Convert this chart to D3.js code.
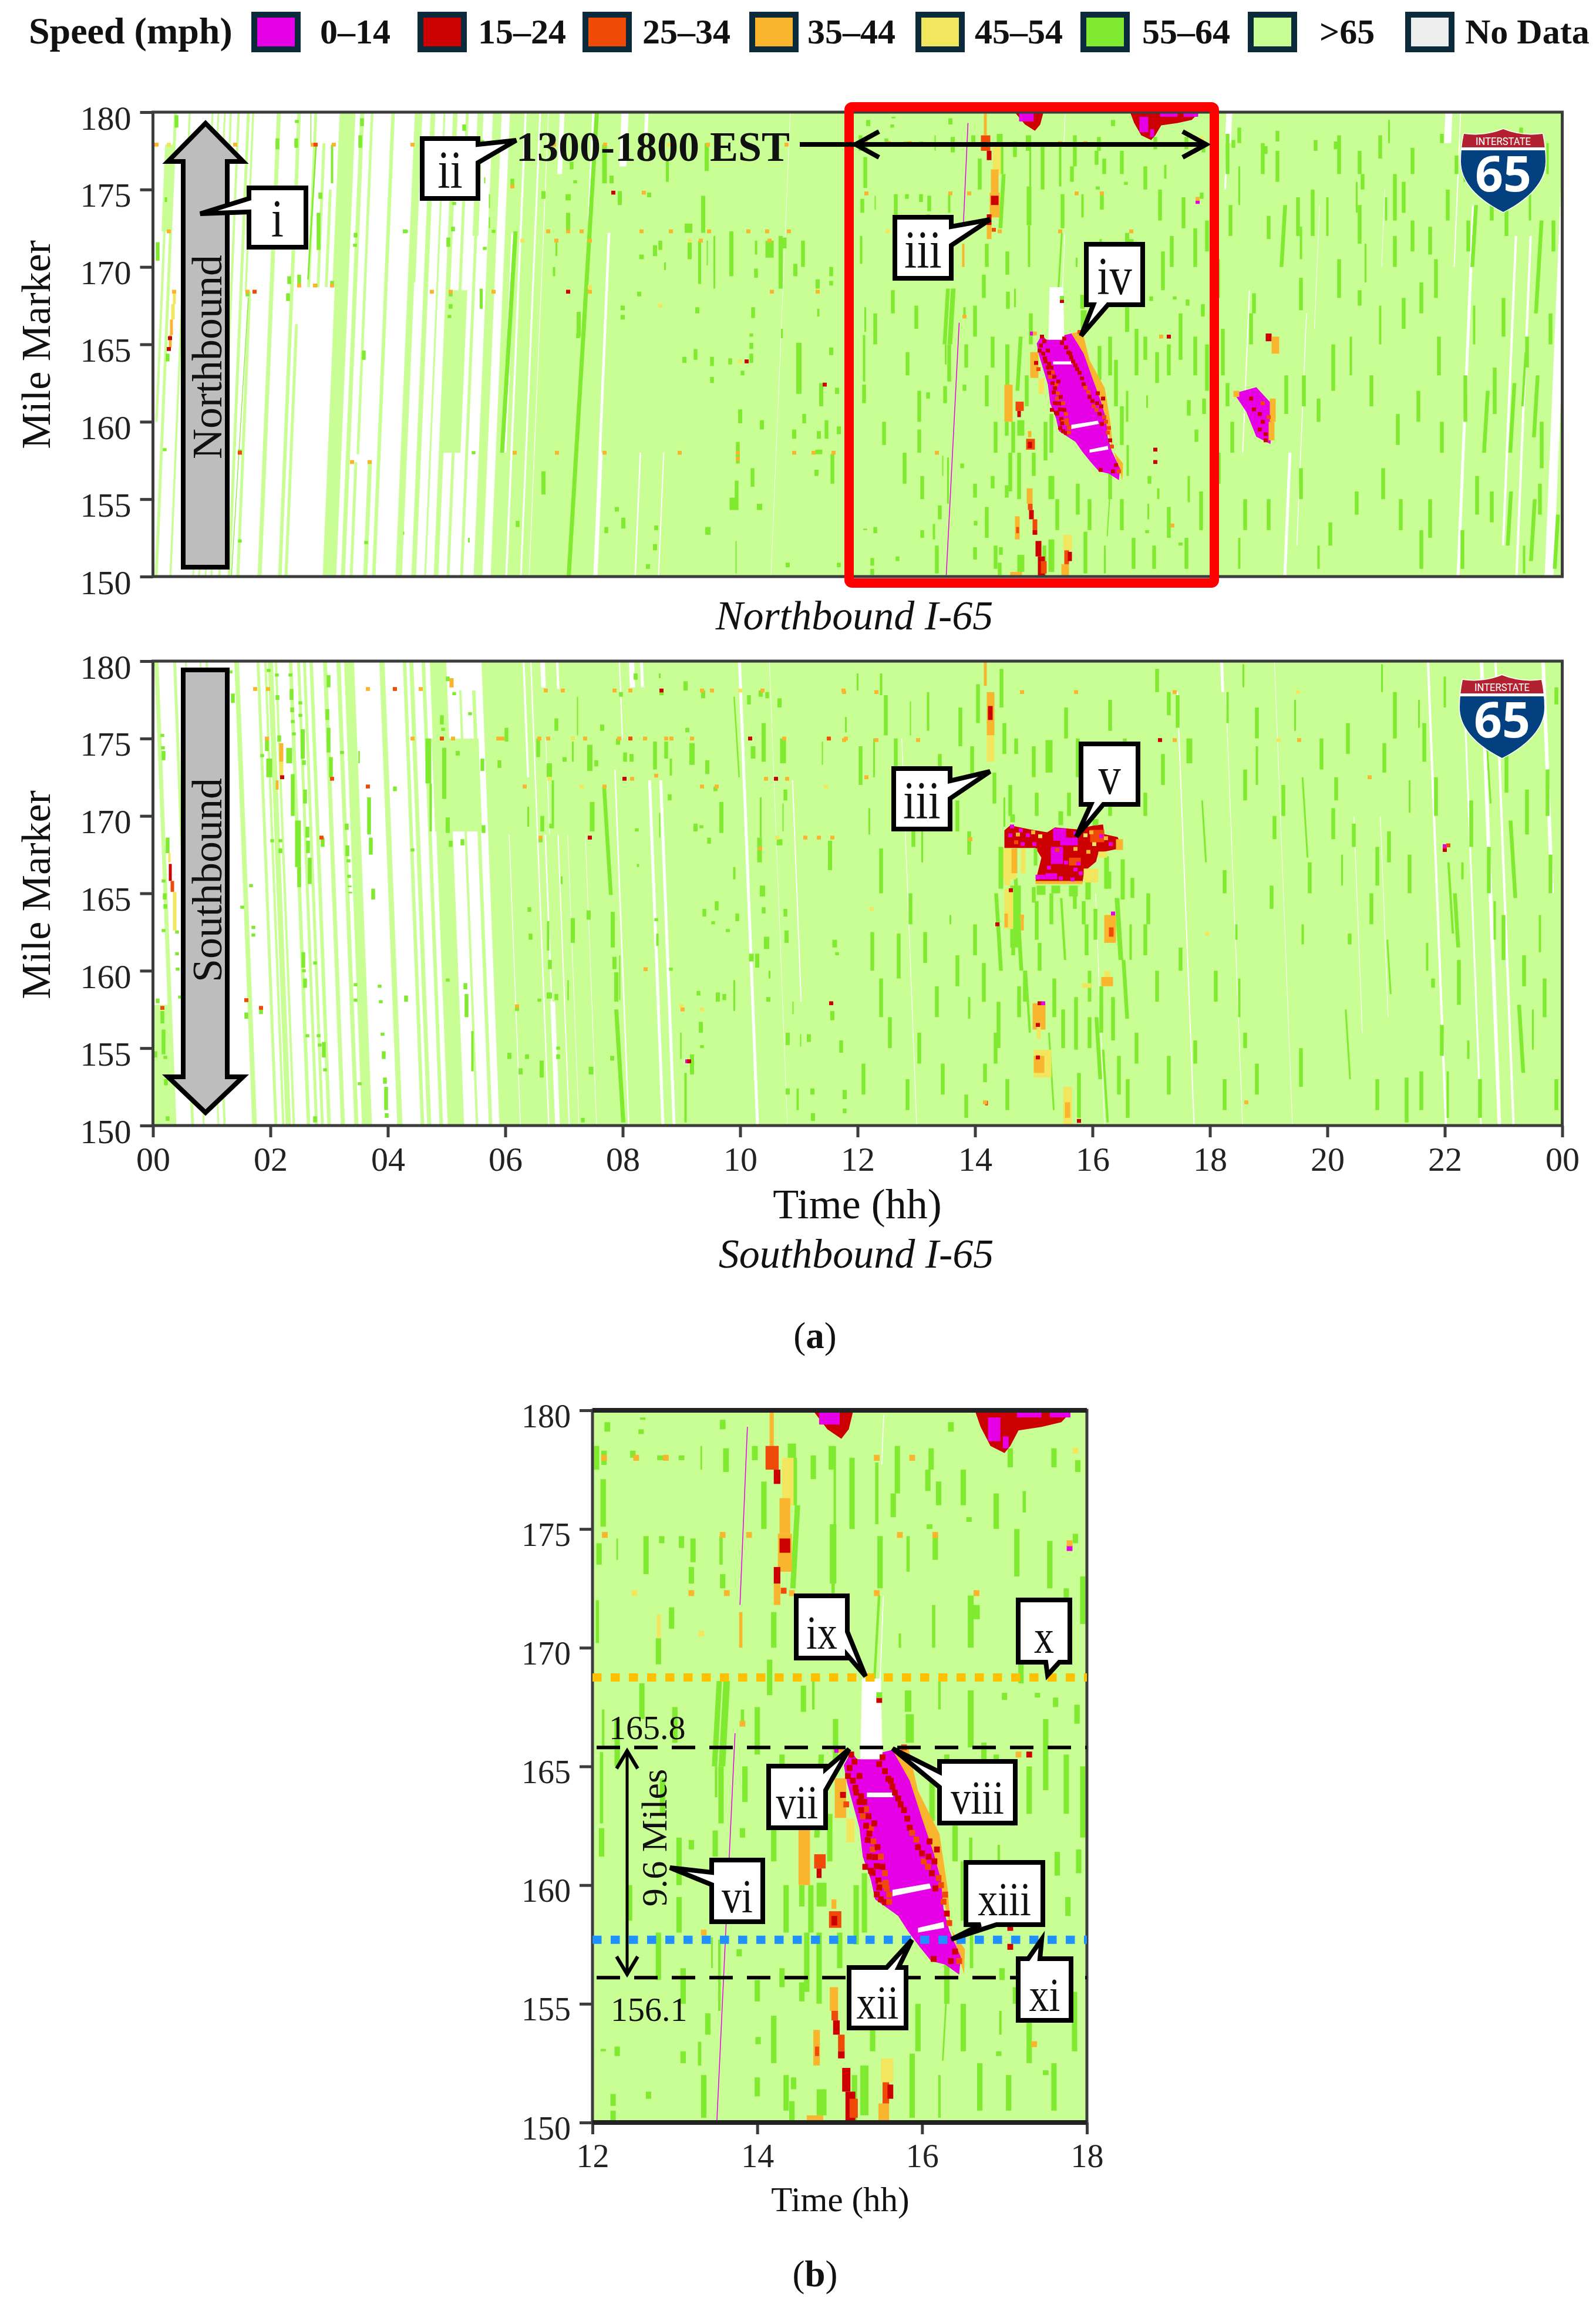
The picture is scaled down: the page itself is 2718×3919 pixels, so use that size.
<!DOCTYPE html>
<html>
<head>
<meta charset="utf-8">
<script src="https://cdn.jsdelivr.net/npm/d3@7.9.0/dist/d3.min.js"></script>
<style>
  html, body { margin: 0; background: #fff; }
  #chart { font-family: "Liberation Serif", serif; }
</style>
</head>
<body>
<svg id="chart" width="2718" height="3919"></svg>
<script>
const speedLabels = ["0–14", "15–24", "25–34", "35–44", "45–54", "55–64", ">65", "No Data"];
const speedColors = ["#e600e6", "#cc0000", "#f04a08", "#fab52e", "#f2e65f", "#80ea30", "#c9fe95", "#eeeeee"];
const hourTicks = [0, 2, 4, 6, 8, 10, 12, 14, 16, 18, 20, 22, 24];
const zoomHourTicks = [12, 14, 16, 18];
const mileTicks = [150, 155, 160, 165, 170, 175, 180];

// hours at mile 150 where full coverage starts, earlier hours are mostly no data
const northCoverStart = 5.75;
const southCoverStart = 5.9;

// [hour at mile 150, width in hours, mile from, mile to]
const northBands = [[-.1,.14,172.3,177.9],[-.07,.04,160,178],[.03,.05,150,180],[.28,.035,150,180],[.67,.03,150,180],[.77,.03,150,180],[.88,.03,150,180],[.98,.035,150,180],[1.11,.04,150,180],[1.27,.05,150,180],[1.42,.05,150,168.4],[1.36,.035,168.4,180],[1.78,.07,150,180],[2.13,.06,150,180],[2.24,.05,150,166.3],[2.42,.05,168.7,180],[2.58,.05,168.7,178],[2.72,.05,168.7,175],[2.85,.05,168.7,180],[3,.04,168.7,180],[2.89,.23,150,180],[3.2,.07,150,180],[3.35,.05,150,157.4],[3.58,.07,150,157.4],[3.38,.045,157.9,180],[3.73,.06,150,180],[4.13,.11,150,180],[4.2,.06,169,180],[4.4,.08,150,180],[4.62,.03,150,180],[4.78,.08,150,180],[4.85,.3,158,168.5],[5,.05,150,180],[5.2,.1,172,180],[5.23,.05,150,180],[5.46,.15,150,180]];
const southBands = [[0,.33,150,157.8],[.33,.07,150,180],[.65,.05,150,180],[.85,.03,150,180],[1.1,.03,150,180],[1.2,.04,150,180],[1.69,.08,150,180],[2.07,.05,150,180],[2.2,.04,150,180],[2.26,.09,150,180],[2.38,.04,150,180],[2.62,.06,150,180],[2.76,.05,150,180],[2.86,.05,150,180],[2.97,.06,150,180],[3.2,.07,150,180],[3.43,.07,150,180],[3.56,.17,150,180],[4.16,.09,150,180],[4.56,.06,150,180],[4.67,.07,150,180],[4.88,.06,150,180],[5.02,.28,150,180],[5,.8,169,175],[5.5,.04,150,180],[5.72,.06,150,180]];

// white no data streaks: [hour at mile 150, width in hours, mile from, mile to]
const northGaps = [[5.86,.07,158,172.2],[6,.035,150,180],[6.25,.03,150,180],[6.4,.012,150,180],[6.6,.08,176,180],[7.15,.05,173,180],[7.5,.07,150,158],[7.5,.045,158,172.2],[7.65,.12,176.5,180],[8.05,.06,178.5,180],[8.2,.025,150,158],[8.6,.02,150,158],[10.52,.008,150,180],[17.95,.1,178,180],[17.97,.03,175,178],[18.46,.02,158,168.5],[19.25,.05,150,158],[19.45,.015,152,167],[19.6,.01,166,174],[20.7,.01,170,175],[21.68,.12,178,180],[21.93,.02,170,180],[22.2,.05,150,174],[22.95,.04,152,172],[23.2,.04,150,172],[23.7,.15,150,180],[15.28,.012,168.7,172.2],[15.2,.012,177.7,179.8]];
const southGaps = [[5.34,.5,178.1,180],[6.25,.015,150,168.8],[6.6,.035,172.5,180],[6.73,.022,150,180],[6.9,.08,178.3,180],[7.17,.04,178.2,180],[6.86,.025,158,168.8],[6.85,.08,150,158],[7.08,.02,150,168.8],[6.94,.012,168.8,175],[7.25,.01,150,168.8],[7.55,.01,150,168.8],[8.24,.02,175,180],[8.41,.09,178.3,180],[8.6,.05,178.3,180],[8.09,.025,150,173],[8.66,.05,150,172.3],[8.85,.05,150,172.3],[10.27,.05,150,180],[11.11,.02,158,172.3],[10.8,.008,150,180],[13,.012,150,175],[16.2,.012,150,165],[17.72,.02,150,178],[18.48,.05,178,180],[18.55,.012,150,178],[19.4,.01,150,180],[20.65,.012,156,170],[21.1,.012,157,170],[22,.04,150,180],[22.6,.03,150,176],[22.9,.06,150,180],[23.15,.04,150,180],[23.95,.06,165,180]];

// darker slow stretches: [hour at middle, mile from, mile to, width in hours]
const northDashes = [[.4,179,179.8],[2.45,179.3,179.5],[2.44,177.7,178.3],[2.12,177.6,178.3],[2.71,169.2,177.9,.025],[3.05,175.4,177.9,.04],[2.85,174.4,174.8],[2.82,171.1,173.5],[2.69,178,180,.012],[2.32,168.9,169.4],[2.49,168.9,169.5],[3.05,168.8,169.1],[2.77,168.7,168.9],[2.3,167.8,168.3],[1.61,168.1,168.3],[3.56,179.1,179.6],[3.53,177.7,178.5],[3.45,171.9,172.2],[3.44,171.3,171.5],[3.59,164,164.6],[3.63,152.1,152.3],[1.48,158,158.2],[1.48,152.2,152.4],[.2,158.1,158.3],[.22,174.2,174.5,.04],[.08,170.4,171.6],[.25,163.9,164.4],[1.48,150,168,.012],[5.3,178.8,179.2],[5.13,174,174.2],[5.11,172.3,172.6],[4.31,172.2,172.4],[5.03,171.3,171.9],[5.07,168.1,168.5],[5.07,167.3,167.6],[5.05,166.7,166.9],[5.59,167.3,168.6,.05],[5.65,175.4,175.8,.02],[5.73,173.8,174.7,.02],[5.73,172.5,173.2,.02],[5.65,171.1,171.3],[5.8,172.2,172.4],[5.46,157.9,158.1],[5.94,158,158.9,.03],[5.38,152.2,152.5,.03],[4.27,152.7,152.9,.02],[5.61,177.9,178.2],
[6.12,175.3,175.7],[6.65,174.4,174.9,.07],[7.07,174.3,174.7,.09],[7.07,172.3,173.5,.07],[7.13,176.3,176.8],[7.19,175.4,175.6],[7.32,150,180,.07],[6.06,158,172.3,.07],[6.87,170.7,171.7,.03],[6.83,169.4,170,.04],[7.69,175.4,177.9,.08],[7.81,175.4,175.9,.07],[7.95,174,174.9,.07],[8.45,174.5,174.8,.07],[8.76,175.5,177,.05],[9.43,176.2,178,.07],[9.37,172.2,174.6,.07],[9.12,172.2,172.8,.13],[9.31,168.9,171.7,.05],[9.56,168.6,172,.03],[9.44,170.1,171.7,.02],[9.14,170.5,171.7,.07],[8.55,170.7,171.4,.07],[8.64,171.1,171.7],[8.32,170.5,170.8,.08],[8.72,169.8,170.3,.03],[9.85,169.4,172.3,.07],[10.27,170.8,171.7,.04],[10.27,169.3,169.9],[10.5,170.6,171.7,.14],[10.69,168.6,172,.07],[10.73,171.2,171.9,.12],[11.07,170,171.7],[10.94,169.4,170.2,.07],[11.55,169.4,170],[11.32,168.6,169.2,.07],[11.55,168.8,169.1],[8.28,168.1,168.4,.07],[8,167.2,167.5,.07],[8,166.6,166.9,.07],[7.25,165.5,167.1,.07],[7.24,165.4,165.7],[9.27,167,167.4,.07],[10.22,166.7,167.4],[11,161.8,165.1,.09],[10.71,165.4,166,.03],[11.33,166.8,167.3,.04],[10.19,165.5,165.7],[10.19,164.7,165.1],[9.24,164,164.7],[9.05,163.8,164.2,.07],[9.52,163.6,164.2],[9.83,163.7,164.1],[10.19,163.8,164.4],[10.04,163,163.3],[9.52,162.5,162.9],[11.55,164.3,164.8,.07],[11.68,159.2,159.7,.07],[11.38,161,162.5,.07],[11.65,161.8,162.2,.07],[11.47,158.9,160.1],[10,159.9,160.8,.07],[10.37,159.5,160.1,.07],[11.09,159.9,160.5],[10.92,158.9,159.5,.07],[11.34,158.9,159.4,.07],[9.96,157.3,158.7],[9.94,154.3,156.2],[9.87,154.3,155.1,.1],[10.21,155.8,157],[10.33,154.3,154.7,.09],[6.65,155.3,156.8,.07],[6.21,153.2,153.6],[7.72,152.8,153.2],[8.01,153.1,153.8,.07],[7.9,154.2,154.5,.07],[8.57,153,153.3,.07],[8.55,151.7,152.1,.07],[8.43,150.5,150.8,.07],[9.45,152.7,153.2,.09],[9.93,150.2,152.3,.02],[10.81,150.6,150.9,.07],[11.3,156.5,156.9,.07],[11.57,156,157.9],[11.68,150.6,150.9],[11.34,157.9,158.2,.12],
[12.18,179.1,179.5,.07],[12.61,179.6,179.7],[12.59,179,179.2],[13.58,179.2,179.6,.07],[12.05,177.5,178.5],[12.14,177.7,178.3],[12.13,175.1,177.1],[12.49,178,178.3],[12.82,177.9,178.1,.07],[13.08,177.9,178.1,.07],[13.32,177.5,178.5,.02],[13.62,177.4,178.4,.07],[13.97,177.9,178.5,.07],[14.42,177.6,178.6,.1],[14.68,177.1,178.1],[14.9,177.5,178.5,.07],[14.97,179.2,179.7,.03],[14.94,175.2,178.5,.03],[16.35,179.1,179.5,.07],[16.11,177.5,178.4],[16.07,176.6,177.5],[17.6,177.6,178.4],[17.89,177.4,177.9],[17.07,177.6,178.4],[15.45,175.2,177.8,.04],[17.24,175.7,176.6,.04],[16.09,175,175.2,.07],[16.57,175.3,175.5],[17.86,174.4,174.8],[12.08,173.5,174.4],[12.3,173.7,174.6,.02],[12.65,173.1,174.7],[12.84,174.4,174.7],[13.08,174.2,174.7],[13.22,173.6,174.6],[13.2,172.7,173.4],[13.56,173.5,174.7,.04],[13.58,172.5,173.1],[14.92,172.7,175.2,.08],[15.49,172.5,174.7],[15.83,173.2,174.7,.04],[16.16,173.7,174.7],[14.92,170,172.7,.04],[15.45,168.7,172.2,.03],[16.14,170,171.8,.04],[16.59,170,172.2,.07],[16.66,171.2,171.8,.08],[15.73,170,170.6,.03],[12.8,169.3,170.4],[12.96,170.8,171.7],[12.06,170.2,172,.04],[13.51,165,168.6],[13.6,165,168.6,.08],[14.56,167.3,168.4],[14.68,167.4,168.6,.03],[15.83,167.3,168.2,.08],[15.85,166,167.2,.1],[16.59,165.8,168.2,.07],[16.21,167.4,168.6,.03],[13.56,162.6,165],[13.5,163.7,165,.03],[13.82,166.8,167.4,.04],[17.88,166.8,167.6],[17,167.8,168.1],[17.4,167.9,168.1],[17.62,167.5,167.9],[12.11,162.6,165.6,.04],[12.13,165.8,167.4,.03],[16.12,162.7,164.9],[12.11,161.2,162.4],[13.2,161.5,161.9],[13.49,161.2,162.3],[13.82,162,162.4],[14.78,159.1,160.1,.12],[14.54,159.1,160],[16.59,160,162,.04],[16.93,160.9,161.7,.03],[17.64,160.4,161.4],[17.9,160.5,161.5],[17.77,158.7,159.5],[13.54,154.7,157.7,.03],[13.4,153.7,154.6],[13.45,156.5,157.8,.02],[13.78,157,157.3],[14.3,155.7,156.5],[14,155.1,156],[14.54,155.1,155.9],[15.3,155,156.5,.1],[16.28,152.6,156.2,.02],[17.12,155,155.7,.04],[16.97,156,156.5],[17.64,154.8,156.5,.04],[16.95,153.7,154.7,.03],[16.93,152.8,153],[12.3,152.8,153.2],[12.13,153,153.1],[12.25,150.7,151.2],[12.25,150.1,150.5],[12.68,151,151.3],[13.1,152.5,153],[13.35,150.2,152],[14,151.1,151.9],[14.01,153.3,153.6],[13.3,152.4,153.4,.04],[14.78,150.3,151.4,.12],[14.42,150.1,150.9],[14.44,151.4,151.9],[15.3,150.3,152.4,.1],[15.88,150.2,152.9],[16.21,150.2,152,.03],[17.5,152,152.2,.07],[14.45,176,178],[14.08,175,177],[14.46,172.5,176],[15.18,150,152],
[14.55,162,165,.07],[14.75,162,165.5],[14.95,165,167],[14.65,158,160],[14.75,155,158],[15,156.5,158],[15.2,157.5,160],[15.3,158,160.5],[14.6,155.5,158],[14.88,161,163],[16.3,163,165.5],[16.4,161,164],[16.5,158.5,161],[16.6,156.5,158.5,.04],[16.3,155,157],[16.75,163,166],[16.9,164,165.5],[17.1,162.5,164.5],[17.3,163,165],[17.5,164,167],[17.75,163,165.5],[17.95,162,165],[17.2,168.5,171],[17.35,170,172],[17.55,172.5,174.5],[17.75,170,172.5],[17.95,171,173],[17.15,173,175],[16.9,175,176.5],[16.5,176,177.5],[16.2,176,177],[15.7,176.5,178.5],[15.65,175.5,176.5],[15.15,175,178],[14.2,170,171.5],[14.55,169.5,171],[14.15,168,169.5],[14,165.5,167.5],[14.3,163.5,165.5],[14.2,161,163],[14.35,158,160],[13,166,167.5],[12.6,167,168.5],[12.3,165,167],[12.85,163,164.5],[13.05,160,162],[13.85,163.5,165],[12.45,158.5,160],[12.8,156,158],[13.1,155,156.5],[13.05,158,159.5],[14.2,152.5,154.5],[14.35,150.5,152],[15.4,153,155],[15.75,154,156],[15.95,153,155],[16.5,153,155],[16.7,150.5,152.5],[17.05,150.5,152],[17.3,152.5,154.5],[17.85,153,155.5],[17.6,150.5,152.5],[16.1,157,159],
[18.3,176,178.6],[18.5,178,179],[18.9,176,178],[19.15,175.5,177.5],[19.5,172,174.5],[20.2,176,178.5],[20.5,173.5,175.5,.03],[20.9,177,178.5],[21.15,173,176],[22.2,176,177.2],[18.22,163,166],[18.38,158,160],[18.7,165,167],[19.25,170,174],[19.75,172,175],[20.2,168,170.5],[20.65,169,171.5,.03],[21.15,170,172],[21.45,171,173],[21.85,168,170.5],[22.05,173,175],[22.5,170,174],[23.05,172,174],[23.6,167,173],[20.1,162,165],[19.3,160.5,163],[21.9,163,165.5],[22.7,158,162],[23.15,158,162.5],[23.55,159,163],[18.15,156,158],[18.6,153,155],[19.55,155,157],[20.05,152,153.5],[21.25,153,155],[21.75,152.5,155],[22.55,154,156.5],[23.5,151,155],[23.1,152,155.5],[23.9,150.5,154],
[18.4,177.7,178.2],[18.95,177.3,177.8],[19.15,178.1,178.8],[19.8,177.5,178.2],[20.55,176,177.5],[20.6,175,176],[20.15,177.6,178.1,.08],[21.05,178,179.5,.03],[21.45,176,177.7],[21.3,173.5,175.5],[21.95,178,178.6],[22.35,175.5,177],[22.9,176.6,178.6,.04],[23.3,177,179],[23.75,176,178,.04],[18.5,174,176.5,.03],[18.1,171,175,.04],[18.35,172,174],[19,171.8,173.3],[19.55,170.5,172.6,.04],[20,172,174.5,.04],[20.55,171.5,174],[21,173,174.5,.04],[21.75,170.8,172.6],[22.4,171,173],[22.8,173,175],[23.45,173,175.5,.04],[23.85,171,173],[18.15,168,170.5,.04],[18.75,167,168.3],[19.55,167.2,169.3],[20.55,167.5,168.5],[20.9,165,167.5,.04],[21.3,166,168],[21.6,167,169],[22.5,165,167.5,.04],[23,165.5,168],[23.4,163.5,165.5],[23.8,165,167],[18.1,160,163,.04],[18.3,161,162.5],[19.6,161,163],[19.85,160,161.5],[20.4,163,165.5,.04],[20.75,161,163],[21.2,158.5,160.5],[21.55,160,162],[21.95,158,160],[22.35,160,163],[22.85,160.5,163.5],[23.65,157,160],[23.35,161,164.5,.04],[18.1,155,157],[18.5,150.5,152.5,.04],[19,153,155],[19.85,150.5,152,.04],[20.5,154,155.5],[20.95,155,157],[21.6,150.5,153],[22.3,150.5,153],[22.8,153.5,155.5],[23.35,150.2,152,.04],[23.62,154,156]];
const southDashes = [[.16,175.1,175.3],[.17,174.3,174.5],[.18,173.6,174.2],[.25,167.6,168.6],[.18,165.7,165.9],[.2,164.6,165],[.21,164,164.3],[.18,162.5,162.7],[.41,162.4,162.6],[.41,161,161.2],[.42,160,160.2],[.46,158.2,158.4],[.08,157.9,158.2],[.16,156.6,157.4],[.18,154.6,156.2],[.04,154.4,154.8],[.21,154.3,154.5],[.22,152.6,153],[.25,150.3,150.6],[1.36,177.3,177.9],[1.32,179.2,179.4],[1.97,179.3,179.5],[2.11,179,179.2],[2.12,177.5,177.8],[2.34,179,179.2],[2.36,177.5,178.2],[2.37,176.7,177],[2.38,176,176.2],[2.4,175.2,175.4],[2.15,174.8,175.2],[1.94,174.2,174.9],[1.86,173.8,174],[1.98,172.5,173.7,.1],[2.32,173.4,174.4,.1],[2.51,177.2,177.4],[2.51,176.4,176.6],[2.55,173.7,175.6,.07],[2.57,173.3,173.6],[2.99,178.3,179.1],[2.97,176.2,176.9],[2.99,174.1,175.7],[3.03,172.5,173.8],[4.92,175.9,176.5],[4.94,175.5,175.7],[5.02,178.7,179],[5.13,177.8,178],[5.4,176.5,176.7],[4.69,172.1,175,.1],[4.96,171.1,174.4,.07],[4.73,169,172.1,.04],[5.02,168.9,169.9,.07],[5.19,173.9,174.2,.07],[5.61,172.9,173.7],[5.9,173.1,173.6],[5.63,168.9,169.4],[5.27,168.1,168.5],[5.07,168,168.4],[4.42,167.7,167.9],[3.75,164.6,165.3],[3.71,167.5,168.6],[3.68,168.8,171.2],[4.12,171.6,171.9],[3.3,169.1,169.5],[3.31,167.4,168.1],[3.33,167,167.2],[3.34,166,166.2],[3.35,165.4,165.5],[3.36,165,165.1],[2.59,170.8,171.7],[2.38,170,172.7],[2.47,166.7,169.7,.1],[2.49,165.4,166.7],[2.63,168.6,169.3],[2.64,167.6,168.4],[2.67,165.6,167.3],[2.89,168,168.6],[2.56,160.2,161.2],[2.57,159.9,160.1],[2.59,158.9,159.5],[2.76,160.4,160.6],[3.86,158.9,159.1],[3.88,157.9,158.1],[3.91,155.8,156],[3.93,154.3,154.8],[3.95,152.7,153.1],[3.97,151,152.5],[3.98,150.5,150.8],[4.31,158,158.4],[5.32,158.8,159.2],[5.34,157,158.5],[5.44,153.5,156.1,.04],[2.63,155.7,155.9],[2.82,155.7,155.9],[2.84,155.1,155.3],[2.91,154.4,155.4],[2.93,153.5,153.7],[3.51,173.4,174.2,.025],[3.45,159,159.2],[3.45,158,158.2],[3.22,174,174.2],[5.02,159.3,159.5],[1.59,156.9,157.3],[1.84,157.2,157.5],[1.52,164,164.2],[1.67,165.4,165.6],[1.71,162.7,162.9],[1.71,162.2,162.4],[2.03,168.3,168.5],[2.17,168.3,168.5],[2.17,167.6,167.9],[3.52,152.6,152.8],[2.76,150.2,150.6],
[6.02,174.8,175.7],[6.56,173.8,175],[6.87,175.5,176.3],[7.01,173.5,173.8,.07],[7.44,172.9,174.6,.09],[7.55,173.2,173.6],[7.65,175.5,175.9,.07],[7.23,175.2,177.7,.02],[7.15,173.5,174.8,.03],[6.75,172.5,173.4,.09],[6.81,169.2,172.3,.04],[6.63,169,170],[6.78,169.2,169.5],[6.39,169.3,170.6,.03],[6.6,168.3,168.7,.07],[7.48,169,170.9,.08],[7.42,163.3,163.9,.07],[7.15,161.8,163.4,.07],[6.41,163.8,164.1],[6.96,165.6,166.1,.03],[6.73,161.3,163.2,.04],[6.76,160.1,160.7],[6.43,162,162.4],[7.07,158.1,159.4,.025],[6.75,158.2,158.6,.09],[6.87,158.1,158.5],[6.58,158,158.2],[6.2,157.4,157.8,.07],[6.26,153.3,153.7,.07],[6.07,154.3,154.7,.07],[6.37,154.3,154.6,.07],[6.62,153.1,154.2,.07],[6.9,154.9,155.1],[6.9,154.3,154.6],[7.46,153.3,153.8,.08],[7.82,154.2,154.5,.07],[7.32,150.2,150.5],[7.74,164.9,171.9],[7.83,161.5,163.8,.07],[7.86,160.1,160.9,.07],[7.89,158,159.9,.07],[7.95,150.2,157.5,.07],[7.95,158.1,161,.02],[8.26,166.7,166.9,.04],[8.24,169,169.2],[8.15,173.5,174,.07],[8.04,173.5,174.1],[7.92,174.6,175,.07],[7.97,177.7,178],[8.22,178.8,179.2,.07],[8.55,173,174.8],[8.74,173.7,174.8],[8.82,172.6,173.7,.04],[8.8,171,171.4],[8.63,178.9,179.2,.03],[8.66,177.8,178,.07],[9.07,178.1,178.7,.07],[9.37,177.6,178.1,.07],[9.1,175.4,175.7,.07],[9.18,173.3,174.7,.09],[9.44,172.7,173.6,.07],[9.68,168.9,170.9,.07],[9.24,169,169.5,.07],[9.34,169.2,169.4],[9.47,168.2,168.6],[8.63,168.6,170.2,.02],[9.58,171.6,171.9,.07],[8.57,163.2,163.4],[8.59,161.6,162.4,.04],[8.82,160,160.2],[8.99,154.3,156,.025],[9.18,153.3,154.6,.07],[9.07,150.2,153.4,.04],[9.33,156,156.7,.07],[9.35,155,155.2],[9.29,158.4,158.7],[9.62,158,158.6,.07],[9.73,158.1,158.5],[9.6,163.9,164.5],[9.39,163.5,164],[9.54,163,163.2],[9.79,162.5,162.7,.07],[10.38,164.8,165.5,.09],[10.4,163.7,164.1],[10.45,161.4,162.2,.09],[10.19,160.6,161.1,.08],[10.29,160.2,161.1,.07],[9.9,165.9,166.7,.04],[9.95,163.2,163.7],[10.5,159.5,160,.03],[9.9,157.4,159.4,.03],[10.4,173.5,176,.07],[10.22,173.7,174.5,.08],[10.73,173.4,175,.1],[9.94,172.5,177.7,.025],[10.15,177.2,177.8],[10.35,177.7,178.1,.07],[10.67,177,177.6,.07],[10.46,177.6,178],[10.35,168.6,171.2,.03],[10.77,171,171.7],[10.73,169,170.8,.02],[10.33,167,168.6,.08],[10.67,168.1,168.5,.1],[11.53,166.5,168.4,.07],[11.8,175.4,176.4,.03],[11.4,173.3,174.8,.02],[11.72,154.7,155.5],[11.57,156.8,157.4,.07],[11.17,155.4,155.9,.07],[10.81,155.2,156,.07],[11.03,155.1,155.9,.02],[10.98,151,152.4,.04],[11.24,150.3,150.8,.07],[11.23,152,152.4,.07],[10.81,152,152.4,.07],[11.78,151.7,152.3,.07],[11.78,150.8,151.1],[11.61,161.5,162,.08],[11.65,161,161.2],[10.79,161.8,162.6,.07],[10.77,163.5,164],[10.48,158,158.3,.07],[10.9,157.2,158,.02],
[12.4,177.8,179.2,.04],[12,178.1,179.2,.03],[12.48,175.2,177.8],[12.4,165,167.9],[12.7,159.5,162.4],[12.28,172.5,175,.03],[13.9,156.9,158.3,.04],[14.17,152.8,154],[13.58,163,163.6,.03],[13.2,175.5,178,.04],[12.9,175.2,177.4,.02],[15.26,172.8,174.9,.12],[14.5,169.3,171.2,.03],[14.33,170.8,172.8],[15.1,160,161.8],[15.5,160.7,164.7,.04],[15.72,154.9,158.3],[15.77,150.5,153.4],[16.22,150.2,154.9,.04],[16.45,160.7,164.7,.08],[16.56,156.9,160.7],[16.35,155.5,158.3],[16.65,160.7,163,.04],[16.68,164.7,166],[16.27,165.3,166.4,.1],[17.45,175.7,177.8],[17.65,173.4,175,.1],[18.45,162,163,.04],[18.57,178.3,179.8,.03],[19.58,161.7,163,.04],[19.62,167.3,172.5,.03],[20.38,161.7,162.4],[20.97,172.8,174.7],[20.93,178,179.8,.03],[21.35,150.2,153.1],[22.1,162.4,167,.04],[22.2,161.5,165],[22.3,165.9,167,.04],[21.7,160,161.8,.04],[21.8,158.9,159.5],[22.24,157.8,160.7],[22.4,154.3,155.5,.04],[22.74,170.8,175.7,.03],[23.16,164.7,169.7],[23.4,168.8,171.7],[23.3,153.4,157.8],[23.5,154.9,157.5,.03],[23.62,161.2,163.6,.04],[23.9,177.2,178.3],[23,160.7,163.6],[21.4,170.2,172.3,.03],[21.56,175.7,177.5,.03],[14.4,160,165],[14.74,160,166],[15,164.4,165.4],[14.4,155,158],[14.9,156,160,.04],[15.3,151,156,.03],[15.95,158,160,.06],[16.1,153,157],
[16.9,170,171.5],[17.2,172,174],[17.3,176.5,178],[17.1,178,179.5],[17.9,167,171,.03],[18.3,176,178,.04],[18.8,175,177],[18.6,171,173],[18.8,172,174.5,.04],[19.1,168.5,170],[19.25,170,172],[19.45,175.5,177.5,.03],[19.9,173,175],[20.1,168.5,170.5],[20.15,171,172.5],[20.35,174,176],[20.45,168,169.5],[20.85,165.5,168],[21.05,167,169],[21.15,175,178],[21.65,173.5,176],[21.85,170,172.5],[22,177,179,.04],[22.45,168,171],[22.6,176,178],[23.05,171.5,174],[23.25,174.5,177],[23.75,170,173],[23.8,165,167.5],[22.75,165,168],[22.85,162,164.5,.04],[18.1,158,160],[18.5,157,159.5,.04],[18.25,165,166.5],[19.05,164,165.5],[19.7,165,167],[20.25,165.5,167.5,.03],[20.75,163,165],[21.4,165,167.5],[21.05,158.5,162,.03],[20.35,153,157.5,.03],[20.85,151,153],[19.55,152.5,155],[18.8,152,154],[18.25,151,153],[17.3,152,154.5],[17.75,154,155.5],[17.1,158,160],[17.5,160,161.5],[16.95,163,165],[21.6,151,153.5],[22.05,150.5,153.5,.04],[22.6,150.5,153],[23.35,159,161],[23.7,157,159.5],[23.9,151,153],[21.95,154.5,156.5],[18.6,155,156],
[12.05,172,174.5],[12.65,172.8,175],[12.85,169.5,171.5],[12.95,168,170],[12.2,168.8,170.5,.03],[13.3,170,172],[13.1,167,169.5,.03],[13.7,169,171],[13.9,167.5,169],[13.4,172,174],[13.75,174.5,177],[13.95,172.5,174.5],[14.05,176,178.5],[14.45,177,179.5],[14.5,174,176],[14.7,174,175],[15,172.5,174.5],[15.55,175,177],[15.75,172.5,175],[16.05,173,174.5],[16.3,175.5,177.5],[16.55,173,175],[12.25,160,162.5],[12.4,157,159.5],[12.9,163,165],[13.15,160.5,162.5],[13.35,157,159],[13.7,159,161],[14,161,163],[14.15,158,160.5],[12.1,152,154],[12.55,155,157],[12.85,151,153],[13.05,154,156],[13.45,152,154],[13.85,150.5,152],[14.35,154,156],[14.55,151,153],[14.85,158,160],[15.35,157,159.5],[15.5,155,157.5],[15.95,155,157],[15.9,161,163],[16.05,162,164],[16.15,156,159],[16.45,152,154.5],[16.75,154,156],[16.6,150.5,153],[15.05,162,164.5],[15.3,163,165],[15.7,164,165],[15.85,163,164.5],[14.75,157,159],[14.65,161,163],[14.6,170,172],[15.05,170,171.5],[16.3,170,172],[15.6,170,171.5],[16.9,161,163]];

// blocks of slow traffic: [hour from, hour to, mile from, mile to, speed class]
const northBlocks = [[.34,.39,167.6,168.4,4],[.31,.37,166.6,167.6,4],[.29,.34,165.6,166.6,3],[.27,.32,164.8,165.6,3],[14.15,14.2,178.5,180,3],[14.1,14.26,177.5,178.5,2],[14.2,14.28,176.9,177.5,1],[14.3,14.44,176,178,4],[14.27,14.4,174.8,176.3,3],[14.25,14.42,173.2,174.8,3],[14.27,14.4,174,174.6,1],[14.2,14.28,172.7,173.4,1],[14.2,14.28,171.8,172.7,3],[14.5,14.64,160,162.4,3],[14.69,14.83,160.7,161.3,2],[14.72,14.78,160.3,160.7,1],[14.87,15.02,158.2,158.9,2],[14.9,14.97,158.3,158.7,1],[14.9,14.96,159,159.4,3],[14.94,15.08,162.83,164.5,3],[15.08,15.18,161.8,162.8,4],[14.88,14.98,154.7,155.7,3],[14.9,14.98,154.3,154.7,2],[14.92,15,153.7,154.3,1],[14.98,15.06,153,153.7,2],[14.98,15.06,152.7,153,1],[15.03,15.13,151.3,152.3,1],[15.07,15.19,150,151.3,1],[15.12,15.22,150.2,151,2],[14.68,14.76,152.4,153.9,3],[14.7,14.75,152.8,153.2,2],[14.6,14.8,150,150.3,3],[15.47,15.6,150,150.8,3],[15.52,15.6,150.8,151.7,2],[15.5,15.65,151.7,152.7,4],[15.58,15.65,151,151.6,1],[14.75,15,179.4,180,0],[16.8,16.95,178.7,179.7,0],[17.15,17.45,179.7,180,0],[17.55,17.8,179.7,180,0],[16.98,17.05,178.4,178.9,0],[18.95,19.05,165.2,165.7,1],[19.05,19.18,164.4,165.5,3],[18.4,18.5,161.6,162,3],[19.02,19.12,160,161.5,3],[19,19.1,158.8,160,3],[12.78,12.83,170.4,171.4,4],[13.78,13.82,170,171.5,3]];
const southBlocks = [[.26,.3,167,167.6,4],[.27,.32,165.8,166.9,1],[.3,.36,165.1,165.8,2],[.34,.4,162.6,165.1,4],[2.15,2.22,172.6,173.5,4],[2.15,2.22,173.5,174.7,3],[2.09,2.14,171.7,172.3,3],[5.05,5.12,178.3,178.9,3],[14.6,14.78,161.5,165.5,5],[14.15,14.2,178.4,180,3],[14.2,14.33,175.2,178,3],[14.22,14.3,176.2,177.1,1],[14.2,14.33,173.5,175.2,4],[14.46,14.7,165.9,167.9,4],[14.5,14.65,162.7,165.3,4],[14.5,14.56,162.8,163.7,3],[14.78,14.83,162.6,163.4,3],[16.2,16.4,161.8,163.6,3],[16.28,16.36,162.2,162.8,2],[16.15,16.35,159,159.6,3],[16.2,16.3,159.6,160,4],[15.82,15.98,158.9,159.2,4],[14.98,15.2,156.2,157.9,3],[15.05,15.12,155.6,156.4,4],[15,15.3,153.1,154.9,4],[15,15.18,153.4,154.5,3],[15.5,15.65,150,152.5,4],[15.53,15.62,150.5,151.5,3],[14.17,14.22,151.3,151.6,2],
[14.4,14.48,165.3,168,5],[15,15.06,166.8,167.9,5],[15.05,15.2,164.9,165.5,5],[15.3,15.45,165,165.5,5],[15.6,15.75,164.8,165.5,5],[16.2,16.28,165.3,167.4,5],[16.48,16.55,164.6,167.2,5],[15.88,15.97,164.6,165.8,5],[14.6,14.68,169.6,170.1,5],[15.42,15.5,169.4,170.3,5],[16,16.1,169.4,169.8,5],
[15.03,15.83,165.6,165.8,3],[15.85,16.1,165.7,166.6,4],[16.1,16.25,167.3,167.7,4],[16.4,16.52,167.8,168.5,3],[14.5,14.6,165.5,167.9,4],[14.62,14.72,166.3,167.9,3],[14.78,14.86,166.3,167.9,4],
[15.33,15.55,168.4,169.2,0],[15.29,15.5,166.9,168,0],[15.45,15.75,168.1,168.6,0],[15.03,15.2,165.9,166.2,0],[15.2,15.4,165.9,166.3,0],[15.6,15.8,166.8,167.3,2],[15.96,16.2,168.3,169.1,2]];

// single cells: [hour, mile, speed class]
const northCells = [[.06,177.9,3],[.27,177.9,4],[1.4,177.9,3],[2.72,177.9,3],[2.77,177.9,2],[3.08,177.9,3],[4.42,177.9,3],[.27,172.3,3],[4.29,172.3,5],[.29,165.4,1],[.27,164.7,1],[.36,168.4,3],[1.61,168.4,3],[1.73,168.4,2],[4.75,168.4,3],[5.07,168.4,3],[5.8,168.4,3],[2.49,168.8,3],[2.76,168.8,3],[3.05,168.8,3],[1.48,158,2],[3.39,157.4,3],[3.69,157.4,3],[6.83,177.9,3],[7.7,177.9,3],[8.78,177.9,4],[9.45,177.9,3],[11.13,177.9,3],[10.79,177.9,3],[6.73,172.3,3],[7.07,172.3,3],[7.3,172.3,3],[8.32,172.3,3],[8.82,172.3,3],[9.47,172.3,3],[10.14,172.3,3],[10.46,172.3,3],[10.83,172.3,3],[6.29,171.7,4],[6.87,171.7,3],[7.44,171.7,3],[9.14,171.7,4],[9.33,171.7,3],[10.5,171.7,3],[7.07,168.4,1],[7.44,168.4,3],[7.44,168.7,4],[11.32,168.4,3],[10.54,168.4,3],[6.16,158,3],[6.88,158,3],[7.69,158,3],[8.97,158,3],[9.96,158,3],[9.96,157.6,3],[10.92,158,3],[11.25,158,3],[11.59,158,3],[6.12,175.2,3],[7.84,174.8,1],[8.36,174.8,3],[8.64,167.5,4],[10.11,163.9,1],[10,163.9,4],[11.44,162.4,1],[12.14,178,3],[12.53,178,3],[12.89,178,3],[15.45,178,3],[15.88,178,3],[12.15,174.75,3],[13.58,174.75,3],[13.9,174.75,3],[15.73,174.75,3],[16.16,174.75,3],[12.51,172.3,4],[13.2,172.3,3],[13.63,172.3,3],[14.42,172.3,3],[15.45,172.3,3],[16.66,172.3,3],[13.32,170.6,4],[13.82,166.8,3],[17.3,165.5,1],[17.17,165.5,3],[14.97,165.7,0],[15.02,165.7,3],[15.78,165.8,2],[17.79,174.2,0],[17.79,174.4,3],[17.86,178.3,4],[17.07,158.2,1],[13.35,158,3],[17.07,157.4,1],[17.36,153.3,3],[15.48,167.8,1],[15.48,168,5],[14.32,172.4,2],
[15.14,165.5,1],[15.12,164.93,1],[15.24,164.6,1],[15.19,164.1,1],[15.26,163.74,1],[15.32,163.2,2],[15.38,162.4,2],[15.41,161.84,2],[15.43,161.18,1],[15.52,160.77,1],[15.47,160.19,1],[15.57,159.86,2],[15.45,159.61,1],[15.55,159.28,1],[15.26,163.16,1],[15.36,162.17,1],[15.31,160.77,1],[15.4,160.52,1],[15.52,165.38,1],[15.59,164.48,1],[15.64,164.15,1],[15.71,163.65,1],[15.78,163.16,1],[15.85,162.42,1],[15.93,161.92,2],[16,161.34,1],[16.07,160.77,2],[16.09,161.84,1],[16.18,161.5,1],[16.23,160,2],[16.28,159.6,2],[16.14,156.89,1],[16.35,156.8,1],[16.16,159.86,1],[15.04,163.8,1],[15.08,163.4,2],
[15.18,165.2,1],[15.1,164.6,1],[15.16,164.4,1],[15.2,163.9,1],[15.24,163.5,1],[15.3,163.5,1],[15.28,162.9,2],[15.35,162.9,1],[15.32,162.5,1],[15.42,162.6,1],[15.34,161.9,1],[15.4,161.5,2],[15.46,161.6,1],[15.36,161.2,1],[15.5,161.2,2],[15.38,160.6,1],[15.45,160.8,1],[15.55,160.5,2],[15.5,160,2],[15.56,160.1,2],[15.6,159.6,2],[15.48,159.9,1],[15.5,159.4,1],[15.6,159.3,2],[15.48,165.1,1],[15.55,164.8,1],[15.62,164.4,1],[15.67,163.9,1],[15.74,163.4,1],[15.82,162.8,1],[15.88,162.2,2],[15.95,161.6,1],[16.02,161,2],[16.08,161.2,1],[16.12,160.5,1],[16.15,161,1],[16.2,160.3,2],[16.26,159.3,2],[16.3,158.8,1],[16.33,158.4,2],[16.4,157.2,1],[16.45,156.8,2],[18.75,160.8,1],[18.85,160.5,1],[18.9,160,1],[18.85,159.5,1],[18.95,159.2,1],[18.95,158.8,1],[18.7,161.5,1],[18.9,161.2,2],[19,160.3,2]];
const southCells = [[1.74,178.2,3],[1.96,178.2,3],[3.66,178.2,3],[4.12,178.2,2],[4.56,178.2,3],[1.94,175,3],[4.42,175,3],[4.92,175,2],[5.11,175,3],[5.88,175,3],[3.05,172.4,2],[2.2,172.5,1],[3.66,171.9,2],[2.87,168.6,2],[.16,157.6,2],[1.84,157.6,2],[1.59,158.1,2],[6.69,178.1,3],[6.98,178.1,3],[7.86,178.1,3],[8.13,178.1,3],[8.66,178.1,1],[9.35,178.1,3],[9.52,178.1,3],[10,178.1,4],[10.38,178.1,3],[11.76,178.1,3],[5.95,175,3],[6.58,175,3],[6.73,175,3],[7.15,175,4],[7.36,175,3],[7.94,175,3],[8.13,175,2],[8.38,175,3],[8.74,175,3],[8.83,175,3],[9.18,175,3],[10.17,175,1],[10.75,175,3],[11.51,175,2],[11.8,175,3],[6.75,172.4,4],[8.03,172.4,1],[8.16,172.4,3],[8.57,172.6,3],[10.44,172.4,3],[10.61,172.4,1],[10.8,172.4,3],[6.33,171.9,3],[7.3,171.9,4],[7.69,171.9,3],[9.35,171.9,3],[9.6,171.9,3],[11.46,171.9,4],[6.6,168.6,3],[7.44,168.6,1],[10.63,168.6,4],[10.34,167.9,3],[11.11,168.6,3],[11.34,168.6,3],[11.57,168.6,3],[6.2,157.7,3],[8.39,160.1,3],[9,157.7,4],[9.02,157.5,3],[9.35,157.5,4],[9.1,154.15,0],[9.13,154.15,1],[11.77,178,3],[12.32,178,3],[14.8,178,3],[15.72,178,3],[17.4,178,3],[19.5,178,4],[11.77,174.9,3],[12.32,174.9,3],[13.03,174.9,3],[17.15,174.9,1],[17.4,174.9,3],[19.17,174.9,4],[19.52,174.9,3],[12.15,172.5,3],[20.72,172.5,3],[13.92,168.5,3],[14.17,151.5,3],[18.62,151.5,3],[17.95,162.4,4],[12.24,164,4],[11.55,157.9,1],[22,168.05,0],[22,167.8,1],[22.06,168.1,2],[14.38,163,1],
[14.63,169.32,0],[14.78,169.07,0],[14.9,168.75,0],[14.6,168.75,0],[15.01,168.18,0],[14.81,168.18,0],[15.55,166.98,0],[15.76,166.92,0],[15.26,166.66,0],[15.46,165.97,0],[15.66,165.9,0],[15.8,166.3,0],[15.71,166.54,0],[16.15,168.69,0],[15.71,168.88,0],[16.31,168.18,0],[14.7,168.3,2],[15.4,167.8,2],[15.71,167.87,3],[15.93,167.68,3],[16.03,168.18,4],[16.23,168.56,3],[15.98,168.94,3],[15.88,168.75,4],[14.99,168.94,3],[14.73,168.8,3],[15.11,168.69,4],[14.61,165.2,1],[15.1,157.9,1],[15.16,157.9,0],[16.35,163.7,0],[15.07,154.4,1],[15.07,156.5,1],[15.77,150.3,1],[14.8,163.5,3]];

// contours of the big queues: [speed class, [[hour, mile], ...]], class 8 is a no data hole
const northShapes = [
  [3, [[15.83,165.84],[15.95,163.98],[16.21,162.17],[16.31,159.86],[16.35,158.13],[16.52,157.3],[16.51,156.23],[15.85,164.4],[15.62,165.7]]],
  [0, [[15.14,165.63],[15.05,165.05],[15.09,164.3],[15.24,162.4],[15.28,161.2],[15.38,160.2],[15.43,159.4],[15.59,159],[15.71,158.7],[15.83,158.05],[15.97,157.4],[16.11,156.8],[16.28,156.65],[16.45,156.23],[16.47,156.97],[16.33,158.1],[16.26,159],[16.23,160.2],[16.14,161.35],[15.99,162.9],[15.85,164.4],[15.64,165.7],[15.47,165.55],[15.47,165.3],[15.21,165.3]]],
  [8, [[15.33,163.9],[15.65,163.9],[15.65,163.7],[15.33,163.7]]],
  [8, [[15.64,159.8],[16.09,160.07],[16.11,159.86],[15.64,159.53]]],
  [8, [[15.95,158.2],[16.26,158.45],[16.27,158.2],[15.95,158]]],
  [8, [[15.27,168.7],[15.5,168.7],[15.52,165.3],[15.25,165.3]]],
  [1, [[14.63,180.2],[15.18,180.2],[15.11,179.2],[15.02,178.8],[14.85,179.2]]],
  [1, [[16.62,180.2],[17.88,180.2],[17.69,179.5],[17.45,179.3],[17.17,179.15],[17.07,178.5],[17,178.2],[16.83,178.5],[16.71,179.3]]],
  [0, [[18.41,161.83],[18.79,162.23],[19.08,161.04],[19.03,158.56],[18.79,159.04],[18.62,160.64]]]
];
const southShapes = [
  [1, [[14.5,169.07],[14.6,169.39],[14.93,169.13],[15.23,168.94],[15.36,169.26],[15.73,169.13],[16.03,169.39],[16.18,169.45],[16.2,168.82],[16.43,168.63],[16.5,167.93],[16.1,167.61],[16.06,167.04],[15.86,166.41],[15.83,165.72],[15.03,165.78],[15.13,167.3],[15.03,167.93],[14.5,167.93]]]
];

// thin single probe traces: [hour, mile, hour, mile, speed class]
const northTraces = [[13.88,179.3,13.79,171.8,0],[13.73,166.4,13.51,150.1,0]];
const southTraces = [];

const lanes = [
  { coverStart: northCoverStart, bands: northBands, gaps: northGaps, dashes: northDashes, blocks: northBlocks, cells: northCells, shapes: northShapes, traces: northTraces, bandSlant: .011, dashSlant: .016 },
  { coverStart: southCoverStart, bands: southBands, gaps: southGaps, dashes: southDashes, blocks: southBlocks, cells: southCells, shapes: southShapes, traces: southTraces, bandSlant: -.0102, dashSlant: -.0165 }
];

const svg = d3.select("#chart");
const defs = svg.append("defs");
const heatColor = c => c === 8 ? "#ffffff" : speedColors[c];
const frameGrey = "#3c3c3c";
let clipId = 0;

function drawHeat(lane, x, y, left, top, w, h) {
  const id = "clip" + clipId++;
  defs.append("clipPath").attr("id", id).append("rect")
    .attr("x", left).attr("y", top).attr("width", w).attr("height", h);
  const g = svg.append("g").attr("clip-path", `url(#${id})`);
  g.append("rect").attr("x", left).attr("y", top).attr("width", w).attr("height", h).attr("fill", "#fff");

  const poly = d3.line().x(d => x(d[0])).y(d => y(d[1]));
  const band = ([t, wd, lo, hi]) => {
    const a = t + (lo - 150) * lane.bandSlant, b = t + (hi - 150) * lane.bandSlant;
    return poly([[a, lo], [a + wd, lo], [b + wd, hi], [b, hi]]) + "Z";
  };
  // only the long runs follow a trajectory, short ones stay square cells
  const dash = ([t, lo, hi, wd = .065]) => {
    const half = hi - lo >= 3.5 ? (hi - lo) / 2 * lane.dashSlant : 0;
    return poly([[t - half - wd / 2, lo], [t - half + wd / 2, lo], [t + half + wd / 2, hi], [t + half - wd / 2, hi]]) + "Z";
  };

  g.selectAll(".band").data(lane.bands.concat([[lane.coverStart, 20, 150, 180]])).join("path")
    .attr("d", band).attr("fill", speedColors[6]);
  g.selectAll(".gap").data(lane.gaps).join("path")
    .attr("d", band).attr("fill", "#fff");
  g.selectAll(".dash").data(lane.dashes).join("path")
    .attr("d", dash).attr("fill", speedColors[5]);
  g.selectAll(".shape").data(lane.shapes).join("path")
    .attr("d", d => poly(d[1]) + "Z").attr("fill", d => heatColor(d[0]));
  g.selectAll(".block").data(lane.blocks).join("rect")
    .attr("x", d => x(d[0])).attr("width", d => x(d[1]) - x(d[0]))
    .attr("y", d => y(d[3])).attr("height", d => y(d[2]) - y(d[3]))
    .attr("fill", d => heatColor(d[4]));
  g.selectAll(".cell").data(lane.cells).join("rect")
    .attr("x", d => x(d[0] - .035)).attr("width", x(.07) - x(0))
    .attr("y", d => y(d[1] + .125)).attr("height", y(150) - y(150.25))
    .attr("fill", d => heatColor(d[2]));
  g.selectAll(".trace").data(lane.traces).join("line")
    .attr("x1", d => x(d[0])).attr("y1", d => y(d[1]))
    .attr("x2", d => x(d[2])).attr("y2", d => y(d[3]))
    .attr("stroke", d => speedColors[d[4]]).attr("stroke-width", 1.5);
}

function styleAxis(g, size) {
  g.select(".domain").remove();
  g.selectAll("line").attr("stroke", frameGrey).attr("stroke-width", 5);
  g.selectAll("text").attr("font-size", size).attr("font-family", "Liberation Serif").attr("fill", "#222");
}

function drawPanel(lane, left, top, w, h, hours, xDomain, showX, size = 58) {
  const x = d3.scaleLinear().domain(xDomain).range([left, left + w]);
  const y = d3.scaleLinear().domain([150, 180]).range([top + h, top]);
  drawHeat(lane, x, y, left, top, w, h);
  svg.append("rect").attr("x", left).attr("y", top).attr("width", w).attr("height", h)
    .attr("fill", "none").attr("stroke", frameGrey).attr("stroke-width", 5);
  const yAxis = svg.append("g").attr("transform", `translate(${left},0)`)
    .call(d3.axisLeft(y).tickValues(mileTicks).tickSize(22).tickPadding(15));
  styleAxis(yAxis, size);
  yAxis.selectAll("text").attr("dy", "0.5em");
  if (showX) {
    const xAxis = svg.append("g").attr("transform", `translate(0,${top + h})`)
      .call(d3.axisBottom(x).tickValues(hours).tickFormat(d => d3.format("02")(d % 24)).tickSize(20).tickPadding(16));
    styleAxis(xAxis, size);
  }
  return { x, y };
}

// legend
svg.append("text").attr("x", 49).attr("y", 74).attr("font-size", 64).attr("font-weight", "bold").attr("fill", "#111").text("Speed (mph)");
const legendSwatchX = [427, 710, 991, 1275, 1558, 1839, 2124, 2392];
const legendTextX = [545, 814, 1094, 1375, 1660, 1945, 2247, 2495];
speedLabels.forEach((label, i) => {
  svg.append("rect").attr("x", legendSwatchX[i] + 6).attr("y", 25).attr("width", 74).attr("height", 59)
    .attr("fill", speedColors[i]).attr("stroke", "#0b2a3c").attr("stroke-width", 10);
  svg.append("text").attr("x", legendTextX[i]).attr("y", 74).attr("font-size", 60).attr("font-weight", "bold").attr("fill", "#111").text(label);
});

drawPanel(lanes[0], 260.5, 191, 2400, 791, hourTicks, [0, 24], false);
drawPanel(lanes[1], 260.5, 1126, 2400, 791, hourTicks, [0, 24], true);
const zoomScales = drawPanel(lanes[0], 1009, 2402, 842, 1213, zoomHourTicks, [12, 18], true, 56);
svg.append("path").attr("d", "M1009,2402H1851M1009,3615H1851").attr("stroke", "#222").attr("stroke-width", 8);

// text around the panels
function label(txt, x, y, size, opts = {}) {
  const t = svg.append("text").attr("x", x).attr("y", y).attr("font-size", size)
    .attr("text-anchor", opts.anchor || "middle").attr("fill", "#111").text(txt);
  if (opts.italic) t.attr("font-style", "italic");
  if (opts.bold) t.attr("font-weight", "bold");
  if (opts.rotate) t.attr("transform", `rotate(-90 ${x} ${y})`);
  return t;
}
label("Mile Marker", 85, 587, 70, { rotate: true });
label("Mile Marker", 85, 1524, 70, { rotate: true });
label("Northbound I-65", 1455, 1072, 70, { italic: true });
label("Time (hh)", 1460, 2075, 72);
label("Southbound I-65", 1458, 2159, 70, { italic: true });
label("Time (hh)", 1431, 3766, 59);
const capA = label("(", 1388, 2296, 63); capA.append("tspan").attr("font-weight", "bold").text("a"); capA.append("tspan").text(")");
const capB = label("(", 1388, 3894, 63); capB.append("tspan").attr("font-weight", "bold").text("b"); capB.append("tspan").text(")");

// red time window and its arrow
svg.append("rect").attr("x", 1446).attr("y", 182).attr("width", 622).attr("height", 811).attr("rx", 5)
  .attr("fill", "none").attr("stroke", "#ff0000").attr("stroke-width", 16);
label("1300-1800 EST", 879, 274, 72, { bold: true, anchor: "start" });
const pen = (d, sw = 8) => svg.append("path").attr("d", d).attr("fill", "none").attr("stroke", "#000").attr("stroke-width", sw).attr("stroke-linejoin", "miter");
pen("M1362,246H2055");
pen("M1497,224L1457,246L1497,268");
pen("M2014,224L2054,246L2014,268");

// big direction arrows
svg.append("path").attr("d", "M312,966H387V275H414L350,210L286,275H312Z").attr("fill", "#bdbdbd").attr("stroke", "#000").attr("stroke-width", 8);
svg.append("path").attr("d", "M312,1141H387V1834H414L350,1895L286,1834H312Z").attr("fill", "#bdbdbd").attr("stroke", "#000").attr("stroke-width", 8);
label("Northbound", 377, 608, 72, { rotate: true });
label("Southbound", 377, 1499, 72, { rotate: true });

// callouts, the source type is taller than it is wide
function callout(txt, x0, y0, x1, y1, side, b0, b1, tx, ty, size = 90) {
  const pts = [[x0, y0]];
  if (side === "top") pts.push([b0, y0], [tx, ty], [b1, y0]);
  pts.push([x1, y0]);
  if (side === "right") pts.push([x1, b0], [tx, ty], [x1, b1]);
  pts.push([x1, y1]);
  if (side === "bottom") pts.push([b1, y1], [tx, ty], [b0, y1]);
  pts.push([x0, y1]);
  if (side === "left") pts.push([x0, b1], [tx, ty], [x0, b0]);
  svg.append("path").attr("d", "M" + pts.join("L") + "Z").attr("fill", "#fff").attr("stroke", "#000").attr("stroke-width", 8);
  svg.append("text").attr("transform", `translate(${(x0 + x1) / 2},${y1 - size * .2}) scale(.85,1)`)
    .attr("font-size", size).attr("text-anchor", "middle").attr("fill", "#111").text(txt);
}
callout("i", 424, 320, 521, 421, "left", 338, 361, 341, 364);
callout("ii", 719, 236, 814, 338, "right", 246, 277, 879, 239);
callout("iii", 1524, 370, 1620, 474, "right", 386, 418, 1686, 374);
callout("iv", 1850, 416, 1946, 519, "bottom", 1862, 1887, 1841, 572);
callout("iii", 1522, 1309, 1618, 1412, "right", 1330, 1360, 1686, 1314);
callout("v", 1841, 1267, 1938, 1370, "bottom", 1858, 1879, 1833, 1425);

// lines on the zoomed panel, given in its own miles
const zoomLines = [
  { mile: 168.75, color: "#ffc000", width: 14, dash: "15.5 15.5", fromHour: 12 },
  { mile: 157.7, color: "#1e90ff", width: 14, dash: "15.5 15.5", fromHour: 12 },
  { mile: 165.8, color: "#000", width: 6, dash: "40 24", fromHour: 12.05 },
  { mile: 156.1, color: "#000", width: 6, dash: "40 24", fromHour: 12.05 }
];
zoomLines.forEach(l => {
  svg.append("line").attr("x1", zoomScales.x(l.fromHour)).attr("x2", zoomScales.x(18))
    .attr("y1", zoomScales.y(l.mile)).attr("y2", zoomScales.y(l.mile))
    .attr("stroke", l.color).attr("stroke-width", l.width).attr("stroke-dasharray", l.dash);
});
const spanX = 1068, spanTop = zoomScales.y(165.8), spanBottom = zoomScales.y(156.1);
pen(`M${spanX},${spanTop + 4}V${spanBottom - 4}`, 5);
pen(`M${spanX - 18},${spanTop + 36}L${spanX},${spanTop + 6}L${spanX + 18},${spanTop + 36}`, 6);
pen(`M${spanX - 18},${spanBottom - 36}L${spanX},${spanBottom - 6}L${spanX + 18},${spanBottom - 36}`, 6);
label("165.8", 1037, 2962, 58, { anchor: "start" });
label("156.1", 1040, 3442, 58, { anchor: "start" });
label("9.6 Miles", 1135, 3130, 62, { rotate: true });

callout("ix", 1356, 2718, 1443, 2824, "right", 2779, 2819, 1474, 2855, 80);
callout("x", 1734, 2725, 1822, 2831, "bottom", 1781, 1804, 1784, 2853, 80);
callout("vii", 1309, 3008, 1406, 3113, "right", 3013, 3049, 1446, 2979, 80);
callout("viii", 1600, 3000, 1729, 3105, "left", 3018, 3044, 1520, 2978, 80);
callout("vi", 1212, 3168, 1299, 3273, "left", 3189, 3210, 1141, 3181, 80);
callout("xii", 1446, 3351, 1543, 3454, "top", 1510, 1530, 1553, 3304, 80);
callout("xiii", 1645, 3172, 1776, 3278, "bottom", 1670, 1697, 1620, 3303, 80);
callout("xi", 1734, 3336, 1824, 3441, "top", 1751, 1771, 1774, 3303, 80);

// interstate shields
function shield(px, py, clip) {
  const g = svg.append("g").attr("transform", `translate(${px},${py})`);
  const outline = "M5,8 Q40,13 72,0 Q104,13 139,8 Q144,32 144,55 C144,95 106,124 72,141 C38,124 0,95 0,55 Q0,32 5,8Z";
  defs.append("clipPath").attr("id", clip).append("path").attr("d", outline);
  g.append("path").attr("d", outline).attr("fill", "#fff").attr("stroke", "#fff").attr("stroke-width", 3);
  const inner = g.append("g").attr("clip-path", `url(#${clip})`);
  inner.append("rect").attr("x", 0).attr("y", 0).attr("width", 144).attr("height", 31).attr("fill", "#b3202f");
  inner.append("rect").attr("x", 0).attr("y", 36).attr("width", 144).attr("height", 110).attr("fill", "#03407f");
  g.append("text").attr("x", 72).attr("y", 27).attr("text-anchor", "middle").attr("font-size", 19).attr("font-family", "Roboto")
    .attr("textLength", 94).attr("lengthAdjust", "spacingAndGlyphs").attr("fill", "#fff").text("INTERSTATE");
  g.append("text").attr("x", 72).attr("y", 106).attr("text-anchor", "middle").attr("font-size", 84).attr("font-weight", "bold")
    .attr("font-family", "Open Sans").attr("fill", "#fff").text("65");
}
shield(2488, 220, "shieldN");
shield(2486, 1150, "shieldS");
</script>
</body>
</html>
